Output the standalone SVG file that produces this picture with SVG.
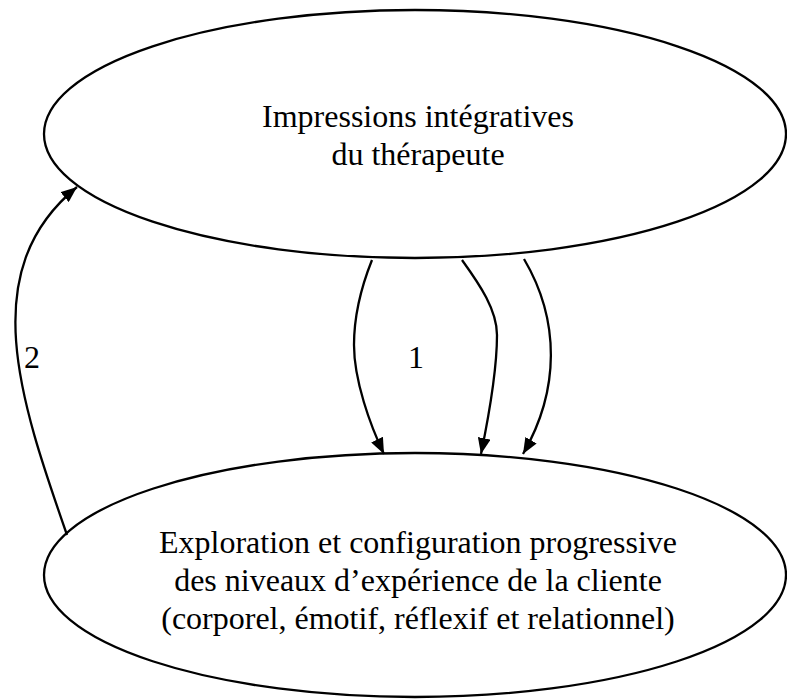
<svg xmlns="http://www.w3.org/2000/svg" width="787" height="700" viewBox="0 0 787 700">
<defs>
<style>
.node{fill:#fff;stroke:#000;stroke-width:2.3}
.lbl{font-family:"Liberation Serif","Times New Roman",serif;font-size:32px;fill:#000;text-anchor:middle}
.edge{fill:none;stroke:#000;stroke-width:2.3}
</style>
<marker id="ah" markerUnits="userSpaceOnUse" markerWidth="17" markerHeight="13" refX="16" refY="6.5" orient="auto">
<path d="M0,0 L16,6.5 L0,13 z" fill="#000"/>
</marker>
</defs>
<rect width="787" height="700" fill="#fff"/>
<g id="node-impressions">
<ellipse class="node" cx="415" cy="134" rx="371" ry="124"/>
<text class="lbl" x="418" y="127">Impressions intégratives</text>
<text class="lbl" x="418" y="165">du thérapeute</text>
</g>
<g id="node-exploration">
<ellipse class="node" cx="415" cy="575" rx="371" ry="122"/>
<text class="lbl" x="418" y="553">Exploration et configuration progressive</text>
<text class="lbl" x="418" y="591">des niveaux d’expérience de la cliente</text>
<text class="lbl" x="418" y="629">(corporel, émotif, réflexif et relationnel)</text>
</g>
<g id="connectors">
<path class="edge" d="M372,260 C360,290 354,320 354,345 C354,380 370,425 384,454" marker-end="url(#ah)"/>
<path class="edge" d="M462,260 C480,285 497,310 497,335 C497,370 488,420 481,454" marker-end="url(#ah)"/>
<path class="edge" d="M524,259 C560,320 560,390 523,454" marker-end="url(#ah)"/>
<path class="edge" d="M67,535 C20,400 -25,270 77,187" marker-end="url(#ah)"/>
<text class="lbl" x="416" y="368">1</text>
<text class="lbl" x="32" y="368">2</text>
</g>
</svg>
